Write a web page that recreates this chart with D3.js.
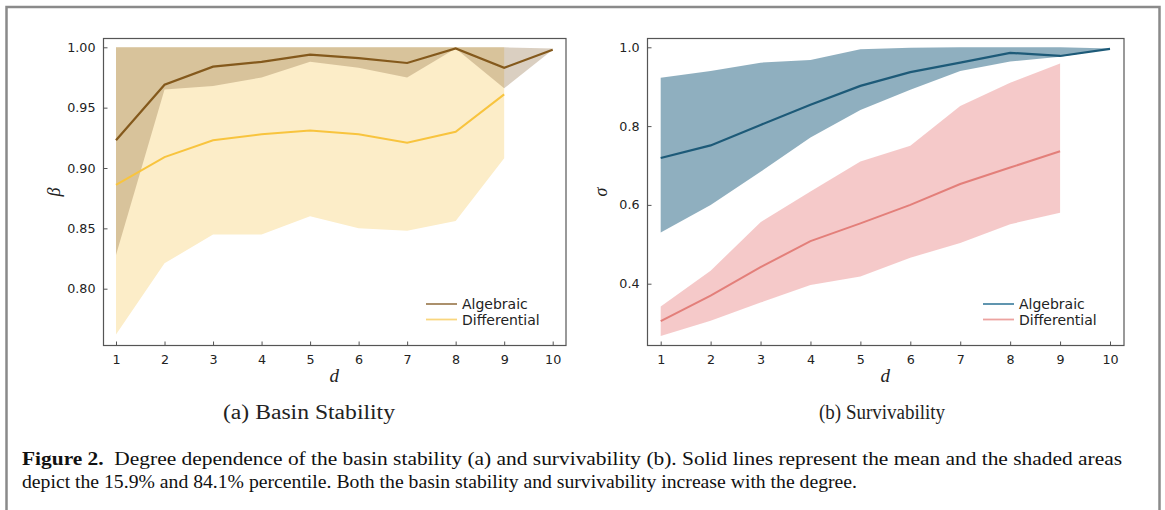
<!DOCTYPE html>
<html>
<head>
<meta charset="utf-8">
<script src="https://cdn.jsdelivr.net/npm/d3@7/dist/d3.min.js"></script>
<style>
  html, body { margin: 0; padding: 0; background: #fff; }
  svg { display: block; }
</style>
</head>
<body>
<svg id="fig" width="1165" height="510"></svg>
<script>
// Degree values on the x axis
const degrees = [1, 2, 3, 4, 5, 6, 7, 8, 9, 10];
const degreesDiff = [1, 2, 3, 4, 5, 6, 7, 8, 9];

// (a) Basin stability: mean and 15.9% / 84.1% percentiles
const bsAlgMean  = [0.923, 0.969, 0.984, 0.988, 0.994, 0.991, 0.987, 0.999, 0.983, 0.998];
const bsAlgLow   = [0.828, 0.965, 0.968, 0.975, 0.988, 0.983, 0.975, 0.999, 0.966, 0.998];
const bsAlgHigh  = [1.000, 1.000, 1.000, 1.000, 1.000, 1.000, 1.000, 1.000, 1.000, 0.999];
const bsDiffMean = [0.886, 0.909, 0.923, 0.928, 0.931, 0.928, 0.921, 0.930, 0.961];
const bsDiffLow  = [0.762, 0.821, 0.845, 0.845, 0.860, 0.850, 0.848, 0.856, 0.908];
const bsDiffHigh = [1.000, 1.000, 1.000, 1.000, 1.000, 1.000, 1.000, 1.000, 1.000];

// (b) Survivability: mean and 15.9% / 84.1% percentiles
const svAlgMean  = [0.719, 0.751, 0.803, 0.854, 0.902, 0.937, 0.961, 0.986, 0.978, 0.996];
const svAlgLow   = [0.530, 0.600, 0.684, 0.771, 0.841, 0.892, 0.940, 0.964, 0.976, 0.996];
const svAlgHigh  = [0.923, 0.940, 0.961, 0.968, 0.995, 0.999, 1.000, 1.000, 1.000, 0.997];
const svDiffMean = [0.305, 0.370, 0.442, 0.508, 0.553, 0.600, 0.653, 0.695, 0.736];
const svDiffLow  = [0.267, 0.306, 0.352, 0.397, 0.418, 0.466, 0.503, 0.551, 0.580];
const svDiffHigh = [0.342, 0.433, 0.556, 0.634, 0.710, 0.750, 0.851, 0.910, 0.959];

// Tick labels
const xTicks = [1, 2, 3, 4, 5, 6, 7, 8, 9, 10];
const bsTicks = [0.80, 0.85, 0.90, 0.95, 1.00];
const svTicks = [0.4, 0.6, 0.8, 1.0];
const seriesNames = ["Algebraic", "Differential"];

const svg = d3.select("#fig");
const TICK_FONT = "'DejaVu Sans', sans-serif";
const SERIF = "'Liberation Serif', 'DejaVu Serif', serif";

// outer figure frame (open at the bottom)
svg.append("path")
  .attr("d", "M6.5,510 V7 H1159.5 V510")
  .attr("fill", "none")
  .attr("stroke", "#8a8a8a")
  .attr("stroke-width", 2.5);

function panel(opts) {
  const g = svg.append("g");
  const x = d3.scaleLinear().domain([1, 10]).range(opts.xRange);
  const y = d3.scaleLinear().domain(opts.yDomain).range(opts.yRange);
  const [fx0, fy0, fx1, fy1] = opts.frame;

  const area = (lo, hi, xs) => d3.area()
    .x((d, i) => x(xs[i]))
    .y0((d, i) => y(lo[i]))
    .y1((d, i) => y(hi[i]))(lo);
  const line = (vals, xs) => d3.line()
    .x((d, i) => x(xs[i]))
    .y(d => y(d))(vals);

  // shaded percentile bands
  g.append("path").attr("d", area(opts.diffLow, opts.diffHigh, degreesDiff))
    .attr("fill", opts.diffBand).attr("fill-opacity", opts.diffBandOpacity);
  g.append("path").attr("d", area(opts.algLow, opts.algHigh, degrees))
    .attr("fill", opts.algBand).attr("fill-opacity", opts.algBandOpacity);

  // mean lines
  g.append("path").attr("d", line(opts.diffMean, degreesDiff))
    .attr("fill", "none").attr("stroke", opts.diffLine).attr("stroke-width", 2);
  g.append("path").attr("d", line(opts.algMean, degrees))
    .attr("fill", "none").attr("stroke", opts.algLine).attr("stroke-width", 2.2);

  // frame
  g.append("rect")
    .attr("x", fx0).attr("y", fy0)
    .attr("width", fx1 - fx0).attr("height", fy1 - fy0)
    .attr("fill", "none").attr("stroke", "#555").attr("stroke-width", 1.2);

  // x axis (ticks pointing into the plot)
  const xAxis = d3.axisBottom(x).tickValues(xTicks).tickSize(-4).tickPadding(9)
    .tickFormat(d3.format("d"));
  const xg = g.append("g").attr("transform", `translate(0,${fy1})`).call(xAxis);
  xg.select(".domain").remove();
  xg.selectAll(".tick line").attr("stroke", "#555");
  xg.selectAll(".tick text").attr("font-family", TICK_FONT).attr("font-size", 12.7)
    .attr("fill", "#222");

  // y axis
  const yAxis = d3.axisLeft(y).tickValues(opts.yTicks).tickSize(-4).tickPadding(8)
    .tickFormat(opts.yFormat);
  const yg = g.append("g").attr("transform", `translate(${fx0},0)`).call(yAxis);
  yg.select(".domain").remove();
  yg.selectAll(".tick line").attr("stroke", "#555");
  yg.selectAll(".tick text").attr("font-family", TICK_FONT).attr("font-size", 12.7)
    .attr("fill", "#222");

  // axis labels
  g.append("text")
    .attr("x", (x(1) + x(10)) / 2).attr("y", fy1 + 36)
    .attr("text-anchor", "middle")
    .attr("font-family", SERIF).attr("font-style", "italic").attr("font-size", 19)
    .attr("fill", "#222").text("d");
  g.append("text")
    .attr("transform", `translate(${opts.yLabelX},${(fy0 + fy1) / 2}) rotate(-90)`)
    .attr("text-anchor", "middle")
    .attr("font-family", SERIF).attr("font-style", "italic").attr("font-size", 18)
    .attr("fill", "#222").text(opts.yLabel);

  // legend
  const lg = g.append("g");
  const legColors = [opts.algLegend, opts.diffLegend];
  seriesNames.forEach((name, i) => {
    const ly = opts.legendY + i * 15.5;
    lg.append("line")
      .attr("x1", opts.legendX).attr("x2", opts.legendX + 31)
      .attr("y1", ly).attr("y2", ly)
      .attr("stroke", legColors[i]).attr("stroke-width", 1.8);
    lg.append("text")
      .attr("x", opts.legendX + 36).attr("y", ly + 5)
      .attr("font-family", TICK_FONT).attr("font-size", 14)
      .attr("fill", "#222").text(name);
  });

  // sub caption
  g.append("text")
    .attr("x", opts.captionX).attr("y", 419)
    .attr("text-anchor", "middle")
    .attr("font-family", SERIF).attr("font-size", 20)
    .attr("textLength", opts.captionW).attr("lengthAdjust", "spacingAndGlyphs")
    .attr("fill", "#222").text(opts.caption);
}

panel({
  xRange: [116, 552.7], yDomain: [0.80, 1.00], yRange: [288.7, 47.3],
  frame: [103.5, 38.5, 566, 345.5],
  yTicks: bsTicks, yFormat: d3.format(".2f"),
  algMean: bsAlgMean, algLow: bsAlgLow, algHigh: bsAlgHigh,
  diffMean: bsDiffMean, diffLow: bsDiffLow, diffHigh: bsDiffHigh,
  diffBand: "#fcedc8", diffBandOpacity: 1,
  algBand: "#8b6a3e", algBandOpacity: 0.32,
  algLine: "#84591c", diffLine: "#f8c43e",
  algLegend: "#a2845c", diffLegend: "#f9d67e",
  legendX: 426, legendY: 304,
  yLabel: "β", yLabelX: 60,
  caption: "(a) Basin Stability", captionX: 309, captionW: 172
});

panel({
  xRange: [660.7, 1110], yDomain: [0.4, 1.0], yRange: [283.7, 47.3],
  frame: [647.5, 38.5, 1124, 345.5],
  yTicks: svTicks, yFormat: d3.format(".1f"),
  algMean: svAlgMean, algLow: svAlgLow, algHigh: svAlgHigh,
  diffMean: svDiffMean, diffLow: svDiffLow, diffHigh: svDiffHigh,
  diffBand: "#e98a8a", diffBandOpacity: 0.46,
  algBand: "#20607f", algBandOpacity: 0.5,
  algLine: "#1d5a78", diffLine: "#e37f7a",
  algLegend: "#4f89a6", diffLegend: "#eca3a0",
  legendX: 983, legendY: 304,
  yLabel: "σ", yLabelX: 607,
  caption: "(b) Survivability", captionX: 882, captionW: 126
});

// figure caption
const cap = svg.append("g").attr("font-family", SERIF).attr("font-size", 19).attr("fill", "#111");
const t1 = cap.append("text").attr("x", 22).attr("y", 465)
  .attr("textLength", 1100).attr("lengthAdjust", "spacingAndGlyphs");
t1.append("tspan").attr("font-weight", "bold").text("Figure 2.");
t1.append("tspan").text("\u2002Degree dependence of the basin stability (a) and survivability (b). Solid lines represent the mean and the shaded areas");
cap.append("text").attr("x", 22).attr("y", 488)
  .attr("textLength", 835).attr("lengthAdjust", "spacingAndGlyphs")
  .text("depict the 15.9% and 84.1% percentile. Both the basin stability and survivability increase with the degree.");
</script>
</body>
</html>
